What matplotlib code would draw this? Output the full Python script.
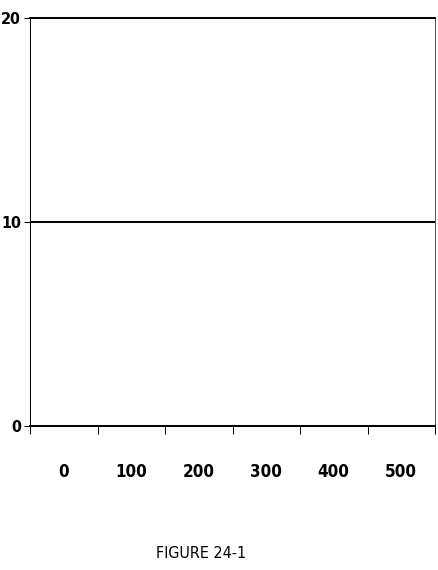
import matplotlib.pyplot as plt
from matplotlib.ticker import FixedLocator

categories = ['0', '100', '200', '300', '400', '500']
y_ticks = [0, 10, 20]
caption = 'FIGURE 24-1'

plt.rcParams['font.family'] = ['DejaVu Sans']
plt.rcParams['font.stretch'] = 'condensed'

fig = plt.figure(figsize=(438 / 72, 570 / 72), dpi=72)
ax = fig.add_axes([30 / 438, (570 - 426) / 570, 405 / 438, 408 / 570])

n = len(categories)
ax.set_xlim(-0.5, n - 0.5)
ax.set_ylim(min(y_ticks), max(y_ticks))

# category labels sit between the tick marks
ax.set_xticks(range(n))
ax.set_xticklabels(categories, fontsize=17, fontweight='bold')
ax.xaxis.set_minor_locator(FixedLocator([i - 0.5 for i in range(n + 1)]))
ax.tick_params(axis='x', which='major', length=0, pad=37)
ax.tick_params(axis='x', which='minor', length=8, width=1, direction='out')

ax.set_yticks(y_ticks)
ax.set_yticklabels([str(v) for v in y_ticks], fontsize=16, fontweight='bold')
ax.tick_params(axis='y', length=6, width=1, direction='out', pad=3)

for v in y_ticks[1:]:
    ax.axhline(v, color='black', lw=2, zorder=1)

ax.spines['bottom'].set_linewidth(2)
ax.spines['top'].set_linewidth(2)
ax.spines['left'].set_linewidth(1)
ax.spines['right'].set_linewidth(1)
ax.spines['right'].set_color('#555555')

fig.text(201 / 438, 1 - 553 / 570, caption, ha='center', va='center', fontsize=16)

fig.savefig('out.png', dpi=72)
